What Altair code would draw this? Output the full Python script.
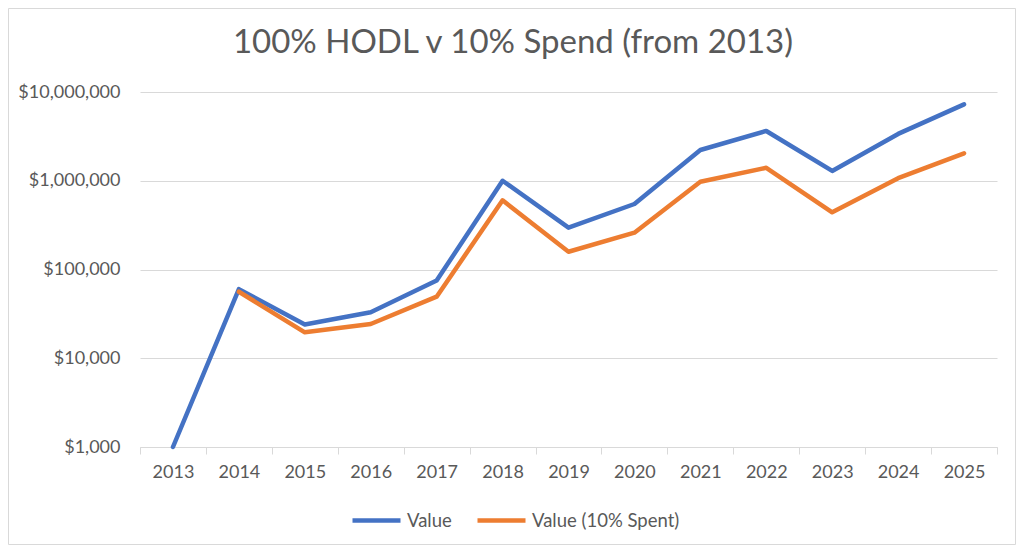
import altair as alt
import pandas as pd

FONT = "Lato"
TEXT = "#595959"
GRID = "#D9D9D9"

title_text = ["100% HODL v 10% Spend (from 2013)"]
years = ["2013", "2014", "2015", "2016", "2017", "2018", "2019",
         "2020", "2021", "2022", "2023", "2024", "2025"]
hodl = [1000, 60000, 24000, 33000, 75000, 1000000, 296000,
        547000, 2220000, 3640000, 1290000, 3370000, 7260000]
spent = [None, 56200, 19600, 24300, 49400, 602000, 158500,
         260000, 976000, 1400000, 441000, 1070000, 2040000]
series_names = ["Value", "Value (10% Spent)"]
colors = ["#4472C4", "#ED7D31"]
y_ticks = [1000, 10000, 100000, 1000000, 10000000]

rows = []
for yr, h, s in zip(years, hodl, spent):
    rows.append({"year": yr, "series": series_names[0], "v": h})
    if s is not None:
        rows.append({"year": yr, "series": series_names[1], "v": s})
df = pd.DataFrame(rows)

color = alt.Color(
    "series:N",
    scale=alt.Scale(domain=series_names, range=colors),
    legend=alt.Legend(
        title=None, orient="none", legendX=210, legendY=402,
        direction="horizontal", symbolType="stroke", symbolSize=2304,
        symbolStrokeWidth=4.5, labelFontSize=18.5, labelColor=TEXT,
        labelFont=FONT, columnPadding=16, labelOffset=4, padding=0,
    ),
)

x = alt.X(
    "year:N", sort=years,
    scale=alt.Scale(type="band", paddingInner=0, paddingOuter=0),
    axis=alt.Axis(
        title=None, labelAngle=0, tickBand="extent", domainColor=GRID,
        tickColor=GRID, tickSize=7, labelFontSize=18, labelColor=TEXT,
        labelFont=FONT, labelPadding=9, grid=False,
    ),
)
y = alt.Y(
    "v:Q",
    scale=alt.Scale(type="log", domain=[1000, 10000000], nice=False),
    axis=alt.Axis(
        title=None, values=y_ticks, format="$,.0f", grid=True,
        gridColor=GRID, domain=False, ticks=False, labelPadding=20,
        labelFontSize=18, labelColor=TEXT, labelFont=FONT,
    ),
)

base = alt.Chart(df)
blue = base.transform_filter(alt.datum.series == series_names[0]).mark_line(
    strokeWidth=4.5, strokeJoin="round", strokeCap="round"
).encode(x=x, y=y, color=color)
orange = base.transform_filter(alt.datum.series == series_names[1]).mark_line(
    strokeWidth=4.5, strokeJoin="round", strokeCap="round"
).encode(x=x, y=y, color=color)

border = alt.Chart(pd.DataFrame({"d": [0]})).mark_rect(
    fillOpacity=0, stroke=GRID, strokeWidth=1
).encode(
    x=alt.value(-131.5), x2=alt.value(875.5),
    y=alt.value(-83.5), y2=alt.value(452.5),
)

title = alt.Chart(pd.DataFrame({"t": title_text})).mark_text(
    font=FONT, fontSize=33, color=TEXT, align="center", baseline="alphabetic"
).encode(text="t:N", x=alt.value(373), y=alt.value(-39.5))

chart = alt.layer(border, title, blue, orange).properties(
    width=857, height=355,
    padding={"left": 132, "top": 84, "right": 19, "bottom": 98},
    autosize=alt.AutoSizeParams(type="none"),
).configure_view(strokeWidth=0)

chart.save("out.html", embed_options={"renderer": "svg", "actions": False})
